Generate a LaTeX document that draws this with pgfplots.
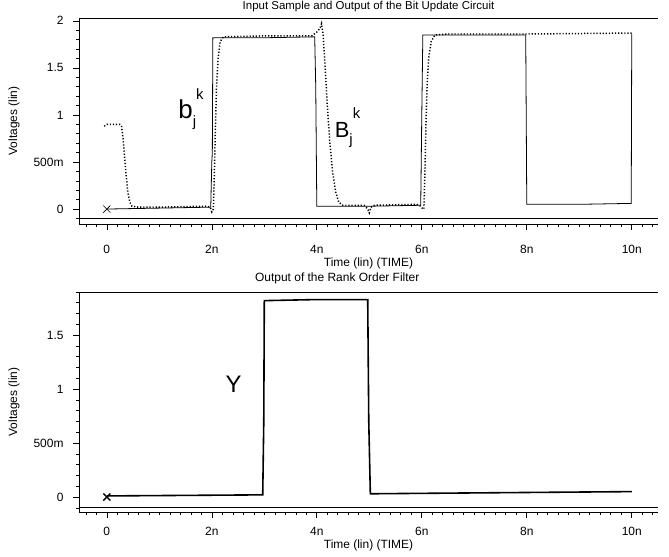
\documentclass[border=0pt]{standalone}
\usepackage{pgfplots}
\pgfplotsset{compat=1.18}
\usepackage{fontspec}
\setmainfont{Liberation Sans}
\begin{document}
\begin{tikzpicture}
\useasboundingbox (0bp,0bp) rectangle (669bp,-557bp);
\pgfplotsset{
  hs/.style={
    scale only axis, width=579bp,
    xmin=-0.53, xmax=10.5,
    axis x line*=box, axis y line*=left,
    xtick={-2,0,2,4,6,8,10,12},
    xticklabels={,0,2n,4n,6n,8n,10n,},
    minor x tick num=9,
    minor y tick num=4,
    xtick pos=bottom, ytick pos=left,
    tick align=outside,
    major tick length=6bp, minor tick length=3bp,
    every tick/.style={black, line width=0.6pt},
    axis line style={black, line width=0.8pt},
    font=\fontsize{12}{14}\selectfont,
    ylabel={Voltages (lin)},
    ylabel style={at={(axis description cs:-0.107,0.5)}, rotate=0, anchor=base},
    xlabel={Time (lin) (TIME)},
    yticklabel style={anchor=east, xshift=-6bp},
    clip=false,
  }
}
% ---------------- top axis ----------------
\begin{axis}[hs, at={(79bp,-224bp)}, anchor=south west, height=206bp,
  ymin=-0.159, ymax=2.03,
  ytick={-0.5,0,0.5,1,1.5,2}, yticklabels={,0,500m,1,1.5,2},
  title={Input Sample and Output of the Bit Update Circuit},
  title style={at={(axis description cs:0.5,1)}, anchor=base, yshift=2.5bp, font=\fontsize{11.5}{13}\selectfont},
  xlabel style={at={(axis description cs:0.5,0)}, anchor=base, yshift=-42bp},
  xticklabel style={anchor=base, yshift=-23bp},
]
\addplot[black, line width=0.8pt] coordinates {(-0.53,-0.095) (10.5,-0.095)};
% solid b_j^k
\addplot[black, line width=0.8pt] coordinates {
 (0,0) (1.0,0.01) (1.98,0.02) (2.0,0.5) (2.01,0.6) (2.02,1.82) (3.0,1.82)
 (3.96,1.83) (3.98,1.3) (4.0,0.03) (5.0,0.03) (5.98,0.04) (6.0,1.0) (6.02,1.85)
 (7.98,1.85) (8.0,0.05) (9.0,0.05) (9.99,0.06) (10.0,1.86)
};
% dotted B_j^k
\addplot[black, line width=1.5pt, dash pattern=on 1.2pt off 1.9pt] coordinates {
 (-0.05,0.88) (0.0,0.9) (0.25,0.9) (0.28,0.88) (0.31,0.75) (0.34,0.55) (0.37,0.35)
 (0.40,0.18) (0.44,0.07) (0.48,0.03) (0.6,0.02) (1.0,0.02) (1.9,0.03) (1.97,0.02)
 (2.0,-0.03) (2.03,0.0) (2.05,0.4) (2.07,0.9) (2.09,1.3) (2.12,1.6) (2.16,1.78)
 (2.22,1.83) (3.0,1.84) (3.9,1.84) (4.0,1.88) (4.06,1.92) (4.09,1.97) (4.12,1.85)
 (4.16,1.5) (4.2,1.1) (4.25,0.7) (4.3,0.4) (4.36,0.18) (4.42,0.07) (4.5,0.04)
 (4.9,0.04) (4.97,0.0) (5.0,-0.04) (5.03,0.02) (5.1,0.04) (5.9,0.05) (5.98,0.03)
 (6.02,0.0) (6.04,0.0) (6.06,0.4) (6.08,0.9) (6.1,1.3) (6.13,1.6) (6.18,1.78)
 (6.25,1.85) (6.5,1.86) (8.0,1.86) (10.0,1.87)
};
\addplot[black, only marks, mark=x, mark size=5bp, line width=0.6pt] coordinates {(0,0)};
\node[anchor=base west, font=\fontsize{26}{28}\selectfont, inner sep=0pt] at (axis cs:1.36,0.96)
  {b\raisebox{-0.3em}{\fontsize{15}{15}\selectfont j}\raisebox{0.75em}{\fontsize{15}{15}\selectfont k}};
\node[anchor=base west, font=\fontsize{22}{24}\selectfont, inner sep=0pt] at (axis cs:4.34,0.76)
  {B\raisebox{-0.3em}{\fontsize{15}{15}\selectfont j}\raisebox{0.85em}{\fontsize{15}{15}\selectfont k}};
\end{axis}
% ---------------- bottom axis ----------------
\begin{axis}[hs, at={(79bp,-512bp)}, anchor=south west, height=220bp,
  ymin=-0.139, ymax=1.90,
  ytick={-0.5,0,0.5,1,1.5,2}, yticklabels={,0,500m,1,1.5,},
  title={Output of the Rank Order Filter},
  title style={at={(axis description cs:0.446,1)}, anchor=base, yshift=5bp},
  xlabel style={at={(axis description cs:0.5,0)}, anchor=base, yshift=-36bp},
  xticklabel style={anchor=base, yshift=-17bp},
]
\addplot[black, line width=0.8pt] coordinates {(-0.53,-0.093) (10.5,-0.093)};
\addplot[black, line width=1.6pt] coordinates {
 (0,0.01) (2.97,0.02) (2.99,0.7) (3.0,1.82) (4.0,1.83) (4.97,1.83) (4.99,0.7)
 (5.02,0.03) (10.0,0.05)
};
\addplot[black, only marks, mark=x, mark size=5bp, line width=1.4pt] coordinates {(0,0)};
\node[anchor=base west, font=\fontsize{24}{26}\selectfont, inner sep=0pt] at (axis cs:2.26,0.97) {Y};
\end{axis}
\end{tikzpicture}
\end{document}
